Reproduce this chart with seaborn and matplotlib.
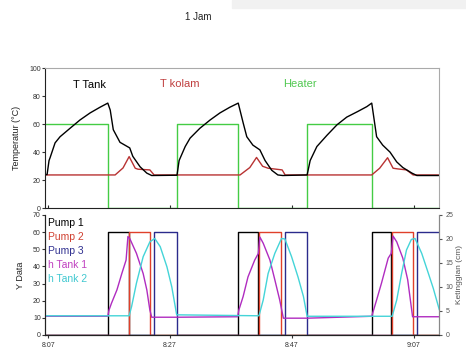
import matplotlib
matplotlib.use("Agg")
import matplotlib.pyplot as plt
import matplotlib.patches as mpatches
import seaborn as sns

# Time axis in minutes after 8:07
tick_pos = [0, 20, 40, 60]
tick_labels = ["8:07", "8:27", "8:47", "9:07"]

# Heater on/off (drawn as steps)
heater_t = [-0.5, 9.8, 21.1, 31.1, 42.5, 53.1, 64.1]
heater_v = [60, 0, 60, 0, 60, 0, 0]

# Tank temperature
ttank_t = [-0.5, -0.16, 0.16, 0.33, 1.15, 1.97, 3.6, 5.25, 6.9, 8.5, 9.8, 10.2, 10.7, 11.8,
           13.4, 13.9, 15.1, 16.2, 17.0,
           21.15, 21.5, 22.5, 23.3, 24.9, 26.6, 28.2, 29.8, 31.2, 32.0, 32.6, 33.6, 34.75,
           35.6, 36.7, 37.7, 38.5,
           42.5, 43.0, 44.1, 45.75, 47.4, 49.0, 50.8, 52.3, 53.1, 53.9, 54.9, 56.1, 57.2,
           58.2, 59.7, 60.5, 64.1]
ttank_v = [24, 24, 34, 36, 46.6, 51, 57, 63, 68, 72, 75, 70, 56, 47,
           43, 37, 29.5, 25, 23.3,
           23.5, 34, 44, 50, 57, 63, 68, 72, 75, 61, 51, 45, 41.6,
           34, 27, 23.7, 23.3,
           23.7, 34, 44, 52, 59.5, 65, 69, 72.5, 75, 51, 45, 40, 33,
           29, 25, 23.3, 23.3]

# Pond temperature
tkolam_t = [-0.5, 11.0, 12.3, 13.3, 14.3, 14.75, 16.7, 17.4, 31.5, 33.1, 34.2, 35.2, 36.1,
            38.4, 38.9, 53.1, 54.4, 55.7, 56.6, 57.4, 58.8, 59.9, 64.1]
tkolam_v = [23.7, 23.7, 28.7, 36.8, 28.5, 27.8, 27.3, 23.7, 23.7, 29, 36.2, 29.9, 28.5,
            27.3, 23.7, 23.7, 28.5, 36, 28.5, 28, 27.3, 23.7, 23.7]

# Pumps (Y Data, steps)
pump1_t = [-0.5, 9.9, 13.2, 31.2, 34.5, 53.1, 56.3, 64.1]
pump1_v = [0, 60, 0, 60, 0, 60, 0, 0]
pump2_t = [-0.5, 13.3, 16.7, 34.6, 38.2, 56.45, 59.8, 64.1]
pump2_v = [0, 60, 0, 60, 0, 60, 0, 0]
pump3_t = [-0.5, 17.4, 21.1, 38.85, 42.5, 60.5, 64.1]
pump3_v = [0, 60, 0, 60, 0, 60, 60]

# Water level (cm)
htank1_t = [-0.5, 9.8, 10.0, 10.4, 11.3, 12.1, 12.8, 13.1, 13.4, 14.5, 15.6, 16.2, 16.7, 17.0,
            21.1, 31.1, 31.3, 32.0, 32.8, 33.9, 34.5, 34.75, 35.3, 36.4, 37.2, 38.0, 38.6,
            42.5, 53.1, 53.9, 54.7, 55.8, 56.3, 56.6, 57.2, 58.2, 59.0, 59.8, 64.1]
htank1_v = [3.9, 3.9, 5.2, 6.6, 9.4, 12.8, 15.6, 20.5, 20.1, 17, 12.8, 9.4, 5.2, 3.7,
            3.7, 3.8, 5.2, 8, 12.1, 15.6, 17, 20.4, 19.1, 15.6, 11.5, 7.3, 3.5,
            3.5, 3.9, 7.3, 10.8, 16, 17, 20.6, 19.4, 16, 11.5, 3.8, 3.8]
htank2_t = [-0.5, 13.3, 13.7, 14.5, 15.6, 16.7, 17.5, 18.4, 19.5, 20.3, 21.1,
            34.6, 35.3, 36.1, 37.2, 38.3, 38.85, 39.95, 41.0, 41.9, 42.5,
            56.45, 57.2, 58.0, 58.8, 59.6, 60.2, 61.3, 62.4, 63.2, 64.2]
htank2_v = [4.0, 4.0, 5.9, 10.8, 16.3, 19.4, 20.1, 18.4, 14.2, 10, 4.2,
            4.0, 7.3, 12.8, 17, 20.1, 20, 16.3, 12.1, 8, 3.9,
            3.9, 7.3, 12.8, 17.7, 19.9, 20.1, 17, 12.8, 9.7, 5.2]

sns.set_style("white")
plt.rcParams['font.family'] = ['Liberation Sans', 'DejaVu Sans']

fig = plt.figure(figsize=(4.66, 3.51), dpi=100)
ax1 = fig.add_axes([0.0966, 0.407, 0.845, 0.399])
ax2 = fig.add_axes([0.0966, 0.0456, 0.845, 0.342])
ax3 = ax2.twinx()

# light bar at the top right of the screenshot
fig.patches.append(mpatches.Rectangle((232 / 466, 1 - 8 / 351), 1, 8 / 351,
                                      transform=fig.transFigure, color="#f1f1f1", zorder=0))
fig.text(0.425, 0.952, "1 Jam", fontsize=7, ha="center", va="center", color="#222222")

lw = 1.0
xlim = (-0.5, 64.1)

# Top panel: temperatures
sns.lineplot(x=heater_t, y=heater_v, ax=ax1, color="#44cc44", lw=lw, drawstyle="steps-post")
sns.lineplot(x=tkolam_t, y=tkolam_v, ax=ax1, color="#b83232", lw=lw)
sns.lineplot(x=ttank_t, y=ttank_v, ax=ax1, color="black", lw=lw)
ax1.set_xlim(xlim)
ax1.set_ylim(0, 100)
ax1.set_yticks([0, 20, 40, 60, 80, 100])
ax1.set_xticks(tick_pos)
ax1.set_xticklabels([])
ax1.tick_params(axis="y", direction="out", length=2, labelsize=5, pad=1, colors="#333333", left=True)
ax1.tick_params(axis="x", direction="in", length=2, bottom=True)
ax1.set_ylabel("Temperatur (°C)", fontsize=6.5, labelpad=6, color="#222222")
for s in ["top", "right"]:
    ax1.spines[s].set_color("#aaaaaa")
for s in ["left", "bottom"]:
    ax1.spines[s].set_color("#222222")
for s in ax1.spines.values():
    s.set_linewidth(0.8)
ax1.text(0.114, 0.879, "T Tank", transform=ax1.transAxes, fontsize=8, ha="center", va="center", color="black")
ax1.text(0.343, 0.885, "T kolam", transform=ax1.transAxes, fontsize=8, ha="center", va="center", color="#c04040")
ax1.text(0.647, 0.885, "Heater", transform=ax1.transAxes, fontsize=8, ha="center", va="center", color="#50c850")

# Bottom panel: pumps and water levels
sns.lineplot(x=pump1_t, y=pump1_v, ax=ax2, color="black", lw=lw, drawstyle="steps-post")
sns.lineplot(x=pump2_t, y=pump2_v, ax=ax2, color="#e0402a", lw=lw, drawstyle="steps-post")
sns.lineplot(x=pump3_t, y=pump3_v, ax=ax2, color="#2b2b8c", lw=lw, drawstyle="steps-post")
sns.lineplot(x=htank1_t, y=htank1_v, ax=ax3, color="#b02cc0", lw=lw)
sns.lineplot(x=htank2_t, y=htank2_v, ax=ax3, color="#44d4d8", lw=lw)
ax2.set_xlim(xlim)
ax2.set_ylim(0, 70)
ax3.set_ylim(0, 25)
ax2.set_yticks([0, 10, 20, 30, 40, 50, 60, 70])
ax3.set_yticks([0, 5, 10, 15, 20, 25])
ax2.set_xticks(tick_pos)
ax2.set_xticklabels(tick_labels)
ax2.tick_params(axis="y", direction="out", length=2, labelsize=5, pad=1, colors="#333333", left=True)
ax2.tick_params(axis="x", direction="out", length=2, labelsize=5, pad=3, colors="#333333", bottom=True)
ax3.tick_params(axis="y", direction="out", length=2, labelsize=5, pad=3, colors="#555555", right=True)
ax2.set_ylabel("Y Data", fontsize=6.5, labelpad=6, color="#222222")
ax3.set_ylabel("Ketinggian (cm)", fontsize=6, labelpad=2, color="#555555")
for a in (ax2, ax3):
    a.spines["top"].set_visible(False)
    a.spines["left"].set_color("#222222")
    a.spines["bottom"].set_color("#222222")
    a.spines["right"].set_color("#888888")
    for s in a.spines.values():
        s.set_linewidth(0.8)

names = ["Pump 1", "Pump 2", "Pump 3", "h Tank 1", "h Tank 2"]
name_colors = ["black", "#d04030", "#303090", "#c040c0", "#40c8d0"]
for i, (n, c) in enumerate(zip(names, name_colors)):
    ax2.text(0.008, 0.933 - i * 0.117, n, transform=ax2.transAxes, fontsize=7.5,
             ha="left", va="center", color=c, zorder=5)

fig.savefig("out.png", dpi=100)
